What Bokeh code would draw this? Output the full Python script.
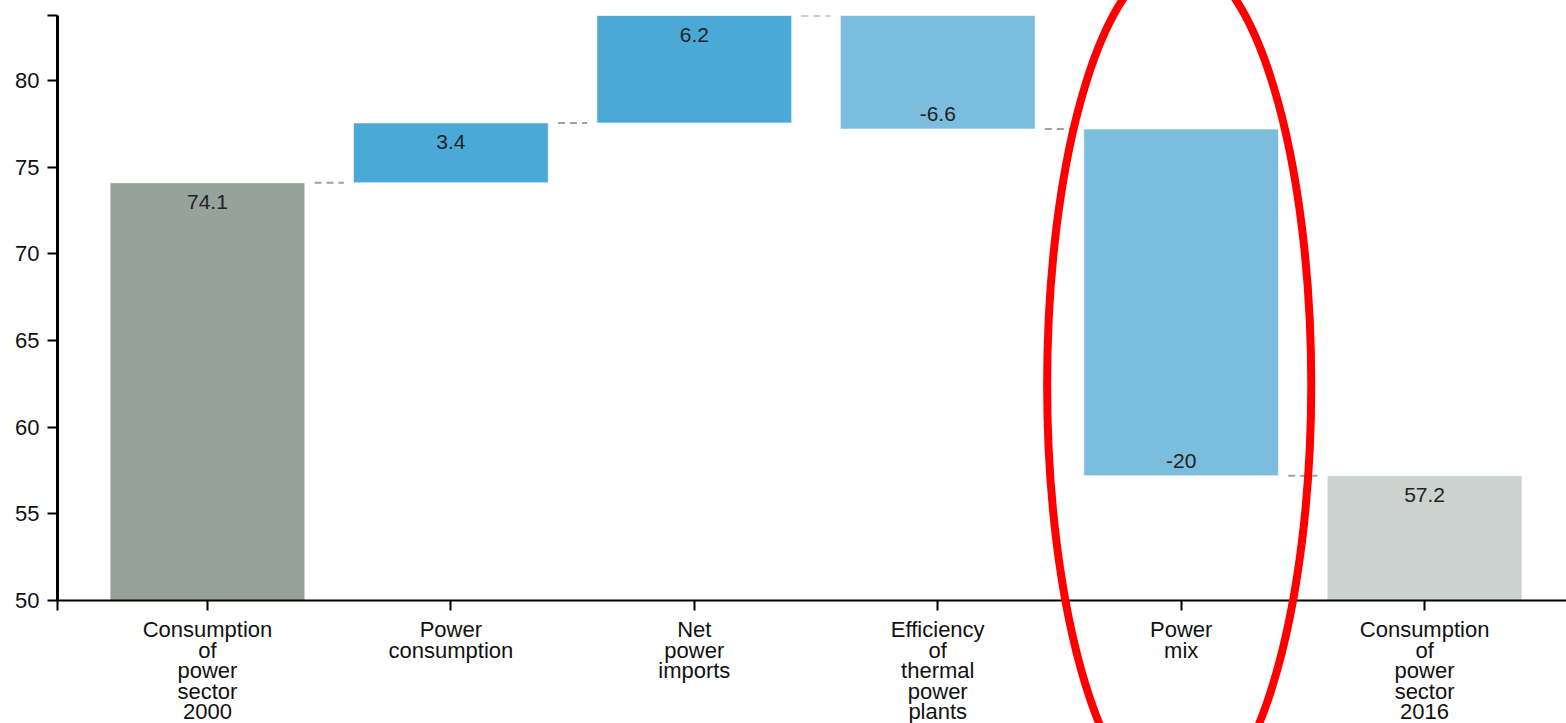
from bokeh.plotting import figure
from bokeh.models import ColumnDataSource, FixedTicker, Range1d
from bokeh.core.properties import value
from bokeh.embed import file_html
from bokeh.resources import INLINE

# ---- data ----
categories = ["Consumption of power sector 2000", "Power consumption", "Net power imports",
              "Efficiency of thermal power plants", "Power mix", "Consumption of power sector 2016"]
tick_labels = ["Consumption\nof\npower\nsector\n2000", "Power\nconsumption", "Net\npower\nimports",
               "Efficiency\nof\nthermal\npower\nplants", "Power\nmix", "Consumption\nof\npower\nsector\n2016"]
start_value = 74.1
deltas = [3.45, 6.2, -6.55, -20.0]
end_value = 57.2
value_labels = ["74.1", "3.4", "6.2", "-6.6", "-20", "57.2"]
y_ticks = [50, 55, 60, 65, 70, 75, 80]
highlight = "Power mix"

# ---- styles ----
Y_MIN = 50
X_START, X_END = -0.616, 5.583
C_START, C_UP, C_DOWN, C_END = "#96a39d", "#4ba9d7", "#7cbcdd", "#cbd2cf"
FONT = "Liberation Sans"

xs = list(range(len(categories)))
bottoms, tops, colors, label_y, label_off = [], [], [], [], []
bottoms.append(Y_MIN); tops.append(start_value); colors.append(C_START)
label_y.append(start_value); label_off.append(19)
run = start_value
for d in deltas:
    new = run + d
    bottoms.append(min(run, new)); tops.append(max(run, new))
    colors.append(C_UP if d >= 0 else C_DOWN)
    label_y.append(new); label_off.append(19 if d >= 0 else -15)
    run = new
bottoms.append(Y_MIN); tops.append(end_value); colors.append(C_END)
label_y.append(end_value); label_off.append(19)

levels = [start_value]
r = start_value
for d in deltas:
    r += d
    levels.append(r)
Y_MAX = max(tops)

src = ColumnDataSource(dict(x=xs, bottom=bottoms, top=tops, color=colors,
                            ly=label_y, yoff=label_off, label=value_labels))

# category label lines
lx, ly_, loff, ltxt = [], [], [], []
for i, t in zip(xs, tick_labels):
    for j, line in enumerate(t.split("\n")):
        lx.append(i); ly_.append(Y_MIN); loff.append(29 + 20.5 * j); ltxt.append(line)
lsrc = ColumnDataSource(dict(x=lx, y=ly_, yoff=loff, text=ltxt))

p = figure(width=1566, height=723, output_backend="svg", toolbar_location=None,
           x_range=Range1d(X_START, X_END), y_range=Range1d(Y_MIN, Y_MAX),
           min_border_left=57, min_border_right=0, min_border_top=15, min_border_bottom=123)
p.outline_line_color = None
p.xgrid.visible = False
p.ygrid.visible = False
p.background_fill_color = "white"
p.border_fill_color = "white"

p.vbar(x="x", width=0.8, bottom="bottom", top="top", fill_color="color",
       line_color="white", line_alpha=0.6, line_width=1, source=src)

# connectors
cx0 = [xs[i] + 0.44 for i in range(len(levels))]
cx1 = [xs[i + 1] - 0.44 for i in range(len(levels))]
p.segment(x0=cx0, x1=cx1, y0=levels, y1=levels, line_color="#a0a0a0",
          line_width=2, line_dash="7 5")

p.text(x="x", y="ly", text="label", y_offset="yoff", source=src,
       text_align="center", text_baseline="middle",
       text_font=value(FONT), text_font_size=value("21px"), text_color="#222222")

# category labels below the axis
p.text(x="x", y="y", text="text", y_offset="yoff", source=lsrc,
       text_align="center", text_baseline="alphabetic",
       text_font=value(FONT), text_font_size=value("22px"), text_color="#111111",
       level="overlay")

# highlight ellipse
hx = categories.index(highlight)
p.ellipse(x=[hx - 0.008], y=[62.46], width=1.085, height=49.15,
          fill_color=None, line_color="#ff0000", line_width=8, level="overlay")

# axes
xa = p.xaxis[0]
xa.ticker = FixedTicker(ticks=[X_START] + xs)
xa.major_label_overrides = {**{i: "" for i in xs}, X_START: ""}
xa.axis_line_width = 2
xa.axis_line_color = "#000000"
xa.major_tick_line_width = 2
xa.major_tick_line_color = "#000000"
xa.major_tick_out = 10
xa.major_tick_in = 0
xa.minor_tick_line_color = None
xa.major_label_text_font_size = "1px"

ya = p.yaxis[0]
ya.ticker = FixedTicker(ticks=y_ticks + [Y_MAX])
ya.major_label_overrides = {Y_MAX: ""}
ya.axis_line_width = 3
ya.axis_line_color = "#000000"
ya.major_tick_line_width = 2
ya.major_tick_line_color = "#000000"
ya.major_tick_out = 10
ya.major_tick_in = 0
ya.minor_tick_line_color = None
ya.major_label_text_font = FONT
ya.major_label_text_font_size = "22px"
ya.major_label_text_color = "#111111"
ya.major_label_standoff = 8

open("out.html", "w").write(file_html(p, INLINE))
